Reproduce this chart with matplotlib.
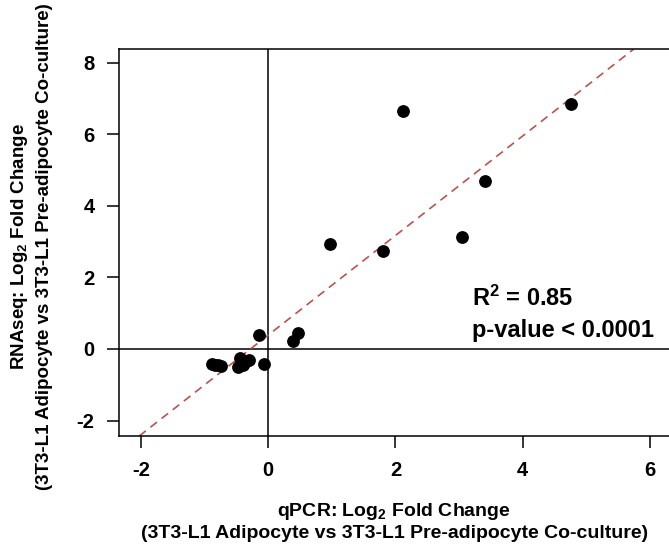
import matplotlib
matplotlib.use("Agg")
import matplotlib.pyplot as plt
import numpy as np

plt.rcParams['font.family'] = ['Liberation Sans', 'DejaVu Sans']
plt.rcParams['mathtext.fontset'] = 'custom'
plt.rcParams['mathtext.rm'] = 'Liberation Sans:bold'
plt.rcParams['mathtext.bf'] = 'Liberation Sans:bold'
plt.rcParams['mathtext.default'] = 'bf'
plt.rcParams['axes.unicode_minus'] = False

# qPCR log2 FC (x) vs RNAseq log2 FC (y)
qpcr = [2.12, 4.76, 3.40, 3.05, 1.80, 0.97, 0.46, 0.39, -0.15, -0.06,
        -0.89, -0.84, -0.79, -0.74, -0.47, -0.45, -0.39, -0.36, -0.30, -0.43]
rnaseq = [6.66, 6.84, 4.68, 3.14, 2.75, 2.92, 0.46, 0.23, 0.38, -0.41,
          -0.43, -0.45, -0.46, -0.47, -0.51, -0.24, -0.44, -0.35, -0.30, -0.40]
fit_slope = 1.39
fit_intercept = 0.39
annot_lines = ["R$^2$ = 0.85", "p-value < 0.0001"]
xticks = [-2, 0, 2, 4, 6]
yticks = [-2, 0, 2, 4, 6, 8]

fig = plt.figure(figsize=(6.69, 5.48), dpi=100)
ax = fig.add_axes([119.3/669, 1-436/548, 1-119.3/669, (436-49.3)/548])

ax.set_xlim(-2.342, 6.30)
ax.set_ylim(-2.43, 8.37)

ax.axhline(0, color='black', lw=1.1, zorder=1)
ax.axvline(0, color='black', lw=1.1, zorder=1)
ax.axline((0, fit_intercept), slope=fit_slope, color='#b85450', lw=1.2,
          ls=(0, (5, 3.5)), zorder=2)
ax.scatter(qpcr, rnaseq, s=85, color='black', zorder=3, linewidths=0)

for s in ['left', 'bottom', 'top']:
    ax.spines[s].set_linewidth(1.1)
ax.spines['right'].set_visible(False)

ax.set_xticks(xticks)
ax.set_yticks(yticks)
ax.tick_params(axis='both', length=8.3, width=1.1, labelsize=14.5, direction='out', pad=9.5)
for lbl in ax.get_xticklabels() + ax.get_yticklabels():
    lbl.set_fontweight('bold')

cx = (119.3 + 669) / 2 / 669
fig.text(cx, 1-512/548, "qPCR: Log$_2$ Fold Change", ha='center', va='center',
         fontsize=14, fontweight='bold')
fig.text(cx, 1-533/548, "(3T3-L1 Adipocyte vs 3T3-L1 Pre-adipocyte Co-culture)",
         ha='center', va='center', fontsize=14, fontweight='bold')
cy = 1 - 247/548
fig.text(20/669, cy, "RNAseq: Log$_2$ Fold Change", ha='center', va='center',
         rotation=90, fontsize=13.5, fontweight='bold')
fig.text(45/669, cy, "(3T3-L1 Adipocyte vs 3T3-L1 Pre-adipocyte Co-culture)",
         ha='center', va='center', rotation=90, fontsize=13.5, fontweight='bold')

ax.text(471.7/669, 1-298/548, annot_lines[0], transform=fig.transFigure,
        ha='left', va='center', fontsize=17, fontweight='bold')
ax.text(471.7/669, 1-330/548, annot_lines[1], transform=fig.transFigure,
        ha='left', va='center', fontsize=17, fontweight='bold')

fig.savefig("out.png", dpi=100)
